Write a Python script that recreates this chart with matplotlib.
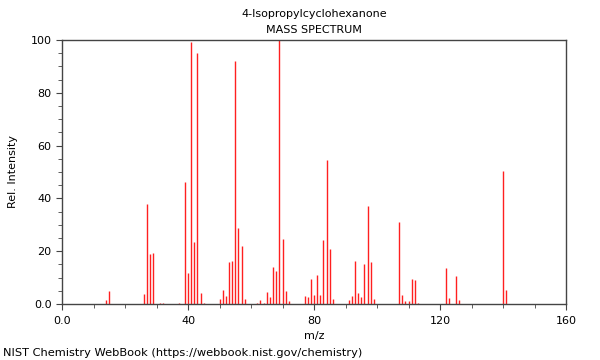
import matplotlib
matplotlib.use("Agg")
import matplotlib.pyplot as plt
from matplotlib.ticker import MultipleLocator, FixedLocator

title = "4-Isopropylcyclohexanone"
subtitle = "MASS SPECTRUM"
footer = "NIST Chemistry WebBook (https://webbook.nist.gov/chemistry)"

mz = [14, 15, 26, 27, 28, 29, 31, 32, 37, 39, 40, 41, 42, 43, 44, 45,
      50, 51, 52, 53, 54, 55, 56, 57, 58, 62, 63, 64, 65, 66, 67, 68, 69, 70, 71, 72,
      77, 78, 79, 80, 81, 82, 83, 84, 85, 86,
      91, 92, 93, 94, 95, 96, 97, 98, 99,
      107, 108, 109, 110, 111, 112, 113,
      122, 123, 125, 126, 140, 141]
intensity = [1.5, 4.9, 3.8, 37.9, 19.0, 19.2, 0.5, 0.5, 0.5, 46.3, 11.6, 99.4, 23.4, 95.2, 4.3, 0.5,
             2.0, 5.3, 3.2, 16.0, 16.3, 92.2, 28.8, 22.0, 1.9, 0.5, 1.5, 0.5, 4.5, 2.5, 13.9, 12.4, 100.0, 24.6, 5.0, 1.0,
             3.0, 2.8, 9.6, 3.5, 10.9, 3.4, 24.4, 54.5, 21.0, 1.9,
             1.5, 2.9, 16.3, 4.0, 2.7, 15.0, 37.1, 15.9, 1.8,
             31.2, 3.3, 1.0, 1.0, 9.5, 9.2, 0.5,
             13.6, 2.1, 10.5, 1.5, 50.2, 5.3]

x_major = [0, 40, 80, 120, 160]
x_labels = ["0.0", "40", "80", "120", "160"]
y_major = [0, 20, 40, 60, 80, 100]
y_labels = ["0.0", "20", "40", "60", "80", "100"]

fig = plt.figure(figsize=(6, 3.6), dpi=100)
ax = fig.add_axes([62/600, 1-304/360, 504/600, 264/360])
ax.vlines(mz, 0, intensity, colors="#ff2020", linewidth=1.0)
ax.set_xlim(0, 160)
ax.set_ylim(0, 100)
ax.xaxis.set_major_locator(FixedLocator(x_major))
ax.set_xticklabels(x_labels)
ax.yaxis.set_major_locator(FixedLocator(y_major))
ax.set_yticklabels(y_labels)
ax.xaxis.set_minor_locator(MultipleLocator(10))
ax.yaxis.set_minor_locator(MultipleLocator(5))
for s in ax.spines.values():
    s.set_color("#444444")
    s.set_linewidth(1.0)
ax.tick_params(which="both", direction="out", colors="#444444", labelcolor="black", labelsize=8)
ax.tick_params(which="major", length=4)
ax.tick_params(which="minor", length=3)
ax.tick_params(axis="x", which="major", pad=4.5)
ax.set_xlabel("m/z", fontsize=8, labelpad=4)
ax.set_ylabel("Rel. Intensity", fontsize=8, labelpad=9)
cx = (62 + 566) / 2 / 600
fig.text(cx, 1-14/360, title, ha="center", va="center", fontsize=8)
fig.text(cx, 1-30/360, subtitle, ha="center", va="center", fontsize=8)
fig.text(3/600, 1-353/360, footer, ha="left", va="center", fontsize=8.2)
fig.savefig("out.png", dpi=100)
